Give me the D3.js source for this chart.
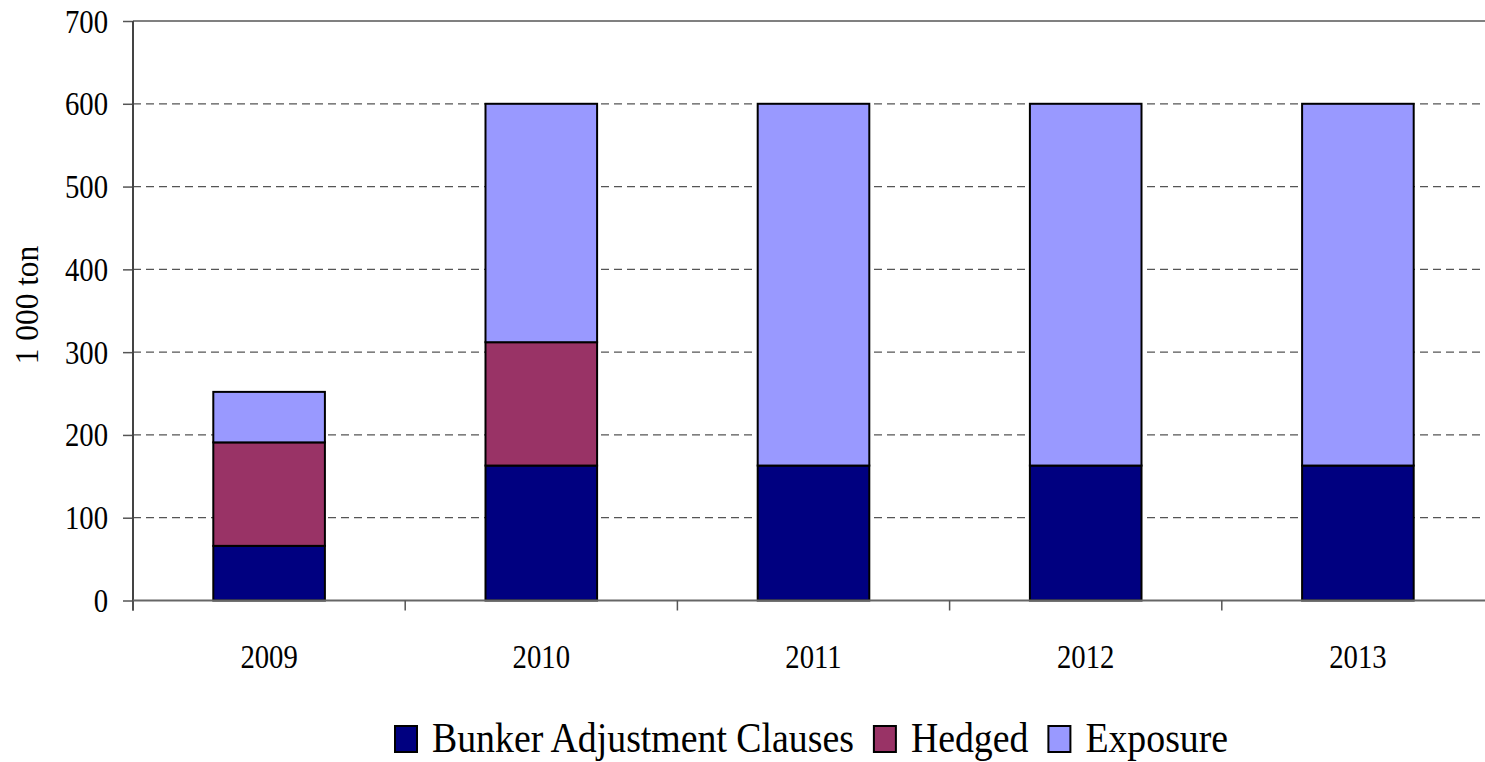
<!DOCTYPE html>
<meta charset="utf-8">
<script src="https://d3js.org/d3.v7.min.js"></script>
<style>
  body { margin: 0; background: #fff; }
  text { font-family: "Liberation Serif", "Times New Roman", serif; fill: #000; }
</style>
<div id="chart"></div>
<script>
  // data (1 000 ton)
  var years = ["2009", "2010", "2011", "2012", "2013"];
  var bac = [66, 163, 163, 163, 163];
  var hedged = [125, 149, 0, 0, 0];
  var exposure = [61, 288, 437, 437, 437];
  var seriesNames = ["Bunker Adjustment Clauses", "Hedged", "Exposure"];
  var seriesColors = ["#000080", "#993366", "#9999ff"];
  var yTicks = [0, 100, 200, 300, 400, 500, 600, 700];

  var W = 1485, H = 762;
  var m = { left: 133, right: 1494, top: 21, bottom: 600.5 };
  var squeeze = 0.87; // the reference font is a bit condensed

  var svg = d3.select("#chart").append("svg")
      .attr("width", W).attr("height", H);

  var x = d3.scaleBand().domain(years).range([m.left, m.right])
      .paddingInner(0.59).paddingOuter(0.295);
  var y = d3.scaleLinear().domain([0, 700]).range([m.bottom, m.top]);

  // gridlines
  svg.append("g").selectAll("line")
    .data(yTicks.filter(function(d) { return d > 0 && d < 700; }))
    .enter().append("line")
      .attr("x1", m.left).attr("x2", m.right)
      .attr("y1", function(d) { return y(d); })
      .attr("y2", function(d) { return y(d); })
      .attr("stroke", "#555").attr("stroke-width", 1.2)
      .attr("stroke-dasharray", "8,5");

  // top border
  svg.append("line")
    .attr("x1", m.left).attr("x2", m.right).attr("y1", y(700)).attr("y2", y(700))
    .attr("stroke", "#808080").attr("stroke-width", 2);

  // stacked bars
  var table = years.map(function(yr, i) {
    return { year: yr, s0: bac[i], s1: hedged[i], s2: exposure[i] };
  });
  var stack = d3.stack().keys(["s0", "s1", "s2"])(table);

  svg.append("g").selectAll("g")
    .data(stack)
    .enter().append("g")
      .attr("fill", function(d, i) { return seriesColors[i]; })
    .selectAll("rect")
    .data(function(d) { return d.filter(function(p) { return p[1] > p[0]; }); })
    .enter().append("rect")
      .attr("x", function(d) { return x(d.data.year); })
      .attr("y", function(d) { return y(d[1]); })
      .attr("width", x.bandwidth())
      .attr("height", function(d) { return y(d[0]) - y(d[1]); })
      .attr("stroke", "#000").attr("stroke-width", 2);

  // y axis
  var yAxis = svg.append("g")
    .attr("transform", "translate(" + m.left + ",0)")
    .call(d3.axisLeft(y).tickValues(yTicks).tickSize(10));
  yAxis.select(".domain").remove();
  yAxis.selectAll("line").attr("stroke", "#555").attr("stroke-width", 1.5);
  yAxis.selectAll("text")
    .attr("x", null).attr("dy", null)
    .attr("transform", "translate(-25,11) scale(" + squeeze + ",1)")
    .style("font-family", "Liberation Serif").style("font-size", "33px");
  svg.append("line")
    .attr("x1", m.left).attr("x2", m.left).attr("y1", m.top).attr("y2", m.bottom + 10)
    .attr("stroke", "#444").attr("stroke-width", 2);

  // x axis line and category boundary ticks
  svg.append("line")
    .attr("x1", m.left).attr("x2", m.right).attr("y1", m.bottom).attr("y2", m.bottom)
    .attr("stroke", "#666").attr("stroke-width", 2);
  var step = x.step();
  svg.append("g").selectAll("line")
    .data(d3.range(years.length + 1))
    .enter().append("line")
      .attr("x1", function(i) { return m.left + i * step; })
      .attr("x2", function(i) { return m.left + i * step; })
      .attr("y1", m.bottom).attr("y2", m.bottom + 10)
      .attr("stroke", "#555").attr("stroke-width", 1.5);

  var xAxis = svg.append("g")
    .attr("transform", "translate(0," + m.bottom + ")")
    .call(d3.axisBottom(x).tickSize(0).tickPadding(0));
  xAxis.select(".domain").remove();
  xAxis.selectAll("text")
    .attr("y", null).attr("dy", null)
    .attr("transform", "translate(0,67) scale(" + squeeze + ",1)")
    .style("font-family", "Liberation Serif").style("font-size", "33px");

  // y axis title
  svg.append("text")
    .attr("transform", "translate(38,305) rotate(-90) scale(0.95,1)")
    .attr("text-anchor", "middle")
    .style("font-size", "33px")
    .text("1 000 ton");

  // legend
  var legend = svg.append("g");
  var lx = 395;
  seriesNames.forEach(function(name, i) {
    legend.append("rect")
      .attr("x", lx).attr("y", 726).attr("width", 22).attr("height", 26)
      .attr("fill", seriesColors[i]).attr("stroke", "#000").attr("stroke-width", 2);
    var t = legend.append("text")
      .attr("transform", "translate(" + (lx + 37) + ",752) scale(0.9,1)")
      .style("font-size", "42px")
      .text(name);
    lx += 37 + t.node().getComputedTextLength() * 0.9 + 20;
  });
</script>
